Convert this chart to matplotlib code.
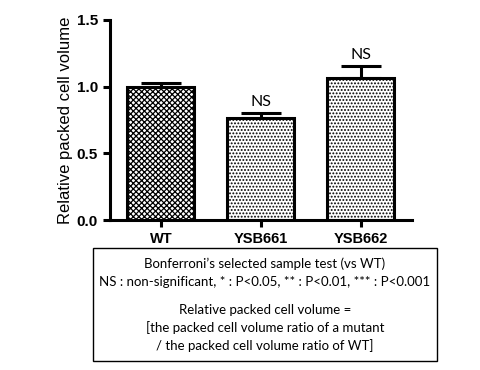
import matplotlib.pyplot as plt
import numpy as np

plt.rcParams['hatch.linewidth'] = 0.9

# Data
strains = ['WT', 'YSB661', 'YSB662']
values = [1.0, 0.765, 1.063]
errors = [0.03, 0.035, 0.09]
sig_labels = ['', 'NS', 'NS']
hatches = ['xxxxxx', '.....', '.....']

fig = plt.figure(figsize=(4.8, 3.7), dpi=100)
ax = fig.add_axes([0.229, 0.405, 0.629, 0.541])

x = np.arange(len(strains))
for i in range(len(strains)):
    ax.bar(x[i], values[i], width=0.67, color='white', edgecolor='black',
           linewidth=2.2, hatch=hatches[i], zorder=2)
    ax.errorbar(x[i], values[i], yerr=[[0], [errors[i]]], fmt='none',
                ecolor='black', elinewidth=2.2, capsize=14.4, capthick=2.2, zorder=1)
    if sig_labels[i]:
        ax.text(x[i], values[i] + errors[i] + 0.035, sig_labels[i], ha='center',
                va='bottom', fontsize=11.5, family='Lato')

ax.set_xlim(-0.51, 2.51)
ax.set_ylim(0, 1.5)
ax.set_yticks([0.0, 0.5, 1.0, 1.5])
ax.set_yticklabels(['0.0', '0.5', '1.0', '1.5'], fontsize=11, fontweight='bold',
                   family='Liberation Sans')
ax.set_xticks(x)
ax.set_xticklabels(strains, fontsize=10.5, fontweight='bold', family='Liberation Sans')
ax.set_ylabel('Relative packed cell volume', fontsize=12, family='Liberation Sans',
              labelpad=3)
ax.spines['top'].set_visible(False)
ax.spines['right'].set_visible(False)
ax.spines['left'].set_linewidth(2.2)
ax.spines['bottom'].set_linewidth(2.2)
ax.tick_params(width=2.2, length=5, direction='out')

# Note box
box = plt.Rectangle((93 / 480, 1 - 361 / 370), (437 - 93) / 480, (361 - 248) / 370,
                    transform=fig.transFigure, fill=False, edgecolor='black', linewidth=1)
fig.patches.append(box)
note_lines = [
    ("Bonferroni\u2019s selected sample test (vs WT)", 264),
    ("NS : non-significant, * : P<0.05, ** : P<0.01, *** : P<0.001", 282),
    ("Relative packed cell volume =", 310),
    ("[the packed cell volume ratio of a mutant", 328),
    ("/ the packed cell volume ratio of WT]", 346),
]
for txt, yp in note_lines:
    fig.text(265 / 480, 1 - yp / 370, txt, ha='center', va='center', fontsize=9.5,
             family='Lato')

fig.savefig('out.png', dpi=100)
